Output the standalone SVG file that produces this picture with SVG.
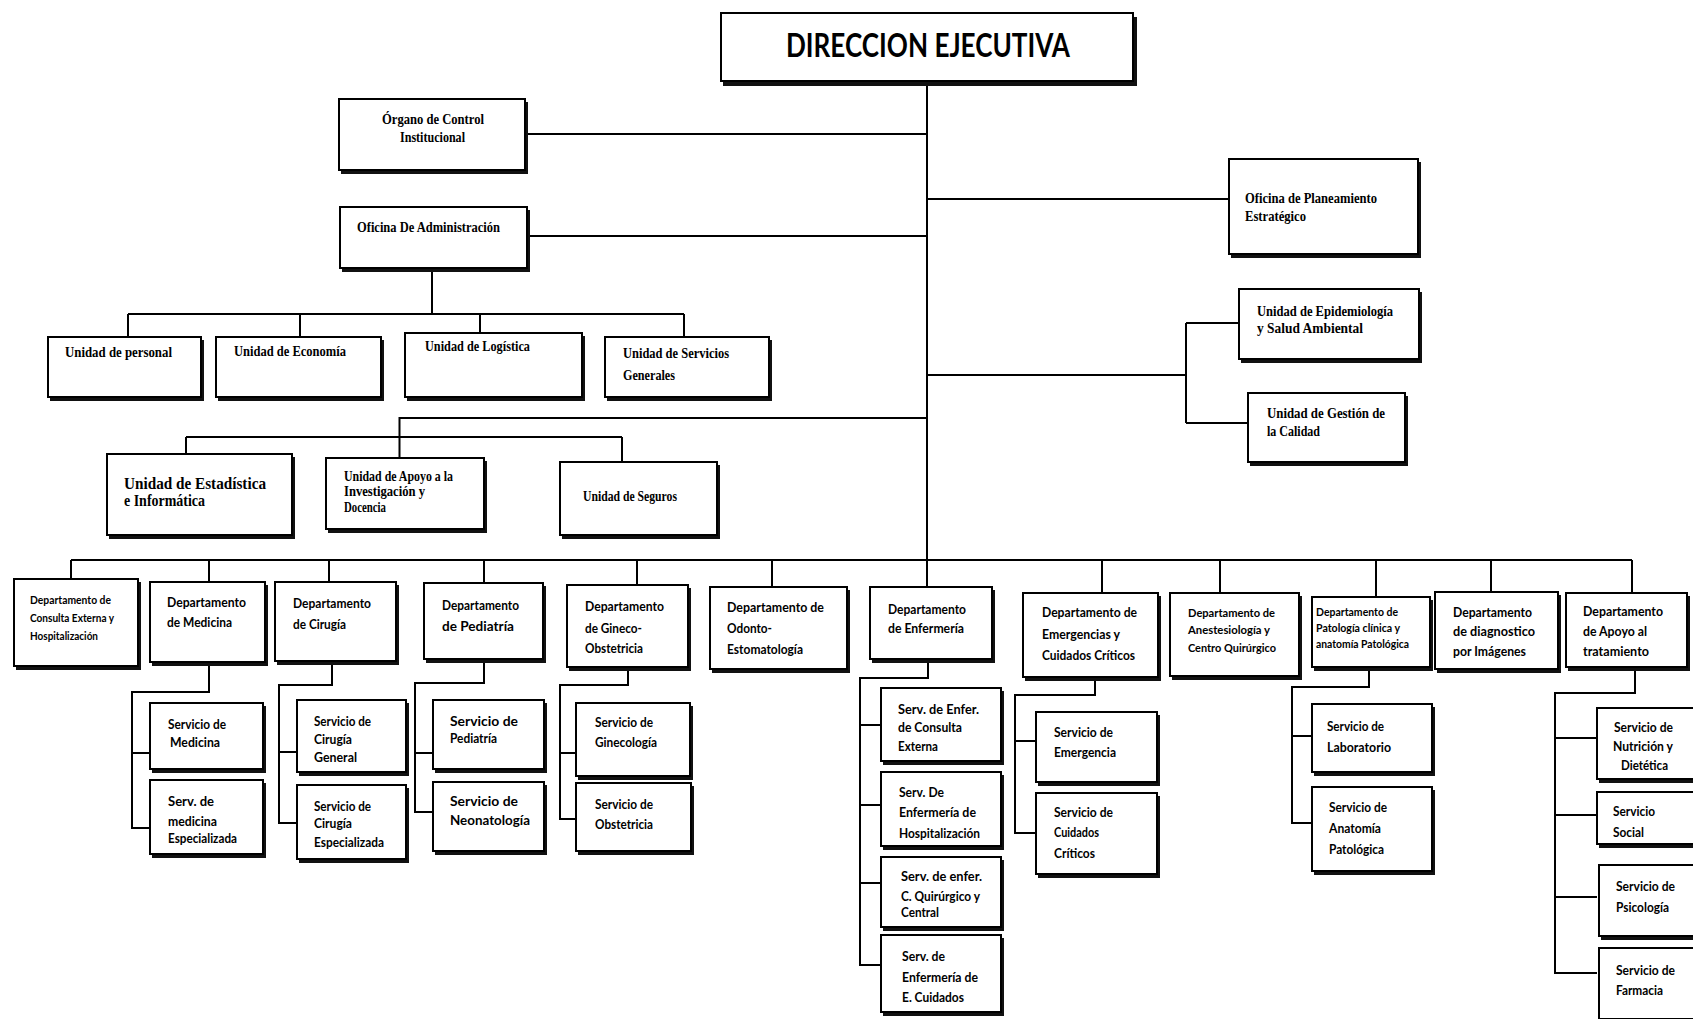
<svg xmlns="http://www.w3.org/2000/svg" width="1693" height="1019" viewBox="0 0 1693 1019">
<style>
.sh{fill:#111}
.bx{fill:#fff;stroke:#000;stroke-width:2}
.ln{fill:none;stroke:#000;stroke-width:2}
.t{font-family:"Liberation Serif",serif;font-size:14px;font-weight:bold;fill:#000}
.tb{font-family:"Liberation Serif",serif;font-size:16px;font-weight:bold;fill:#000}
.s{font-family:Lato,"Liberation Sans",sans-serif;font-size:12.5px;font-weight:bold;fill:#000}
.ss{font-family:Lato,"Liberation Sans",sans-serif;font-size:10.5px;font-weight:bold;fill:#000}
.ti{font-family:Lato,"Liberation Sans",sans-serif;font-size:33px;font-weight:bold;fill:#000}
</style>
<rect width="1693" height="1019" fill="#fff"/>
<g id="connectors">
<path class="ln" d="M927 82V587"/>
<path class="ln" d="M526 134H927"/>
<path class="ln" d="M528 236H927"/>
<path class="ln" d="M927 199H1229"/>
<path class="ln" d="M927 375H1186M1186 323V423M1186 323H1239M1186 423H1248"/>
<path class="ln" d="M927 418H399.5V458M186 437H622M186 437V454M622 437V462"/>
<path class="ln" d="M432 269V314M128 314H684M128 314V337M300 314V337M480 314V333M684 314V337"/>
<path class="ln" d="M71 560H1632M71 560V579M209 560V582M329 560V582M484 560V583M637 560V585M772 560V587M1102 560V593M1220 560V593M1376 560V597M1491 560V592M1632 560V593"/>
<path class="ln" d="M209 663V692H132V828H150M132 753H150"/>
<path class="ln" d="M332 662V685H279V823H297M279 752H297"/>
<path class="ln" d="M484 660V683H415V812H433M415 753H433"/>
<path class="ln" d="M628 668V685H560V819H576M560 753H576"/>
<path class="ln" d="M928 660V678H860V965H881M860 725H881M860 805H881M860 883H881"/>
<path class="ln" d="M1095 678V695H1015V833H1036M1015 741H1036"/>
<path class="ln" d="M1369 668V687H1292V823H1312M1292 736H1312"/>
<path class="ln" d="M1635 668V693H1555V973H1597M1555 738H1597M1555 815H1597M1555 897H1597"/>
</g>
<g id="direccion_ejecutiva"><rect class="sh" x="723" y="17" width="414" height="69"/><rect class="bx" x="721" y="13" width="412" height="68"/><text class="ti" x="786" y="57" textLength="284" lengthAdjust="spacingAndGlyphs">DIRECCION EJECUTIVA</text></g>
<g id="organo_control"><rect class="sh" x="341" y="102" width="187" height="72"/><rect class="bx" x="339" y="99" width="186" height="71"/><text class="t" x="382" y="124" textLength="102" lengthAdjust="spacingAndGlyphs">Órgano de Control</text><text class="t" x="400" y="142" textLength="65" lengthAdjust="spacingAndGlyphs">Institucional</text></g>
<g id="oficina_administracion"><rect class="sh" x="342" y="210" width="188" height="62"/><rect class="bx" x="340" y="207" width="187" height="61"/><text class="t" x="357" y="232" textLength="143" lengthAdjust="spacingAndGlyphs">Oficina De Administración</text></g>
<g id="oficina_planeamiento"><rect class="sh" x="1231" y="162" width="190" height="96"/><rect class="bx" x="1229" y="159" width="189" height="95"/><text class="t" x="1245" y="203" textLength="132" lengthAdjust="spacingAndGlyphs">Oficina de Planeamiento</text><text class="t" x="1245" y="221" textLength="61" lengthAdjust="spacingAndGlyphs">Estratégico</text></g>
<g id="unidad_epidemiologia"><rect class="sh" x="1241" y="292" width="181" height="71"/><rect class="bx" x="1239" y="289" width="180" height="70"/><text class="t" x="1257" y="316" textLength="136" lengthAdjust="spacingAndGlyphs">Unidad de Epidemiología</text><text class="t" x="1257" y="333" textLength="106" lengthAdjust="spacingAndGlyphs">y  Salud Ambiental</text></g>
<g id="unidad_calidad"><rect class="sh" x="1250" y="396" width="158" height="70"/><rect class="bx" x="1248" y="393" width="157" height="69"/><text class="t" x="1267" y="418" textLength="118" lengthAdjust="spacingAndGlyphs">Unidad de Gestión  de</text><text class="t" x="1267" y="436" textLength="53" lengthAdjust="spacingAndGlyphs">la Calidad</text></g>
<g id="unidad_personal"><rect class="sh" x="50" y="340" width="154" height="61"/><rect class="bx" x="48" y="337" width="153" height="60"/><text class="t" x="65" y="357" textLength="107" lengthAdjust="spacingAndGlyphs">Unidad de  personal</text></g>
<g id="unidad_economia"><rect class="sh" x="218" y="340" width="166" height="61"/><rect class="bx" x="216" y="337" width="165" height="60"/><text class="t" x="234" y="356" textLength="112" lengthAdjust="spacingAndGlyphs">Unidad de Economía</text></g>
<g id="unidad_logistica"><rect class="sh" x="407" y="336" width="178" height="65"/><rect class="bx" x="405" y="333" width="177" height="64"/><text class="t" x="425" y="351" textLength="105" lengthAdjust="spacingAndGlyphs">Unidad de Logística</text></g>
<g id="unidad_servicios"><rect class="sh" x="607" y="340" width="165" height="61"/><rect class="bx" x="605" y="337" width="164" height="60"/><text class="t" x="623" y="358" textLength="106" lengthAdjust="spacingAndGlyphs">Unidad de Servicios</text><text class="t" x="623" y="380" textLength="52" lengthAdjust="spacingAndGlyphs">Generales</text></g>
<g id="unidad_estadistica"><rect class="sh" x="109" y="457" width="186" height="82"/><rect class="bx" x="107" y="454" width="185" height="81"/><text class="tb" x="124" y="489" textLength="142" lengthAdjust="spacingAndGlyphs">Unidad  de  Estadística</text><text class="tb" x="124" y="506" textLength="81" lengthAdjust="spacingAndGlyphs">e Informática</text></g>
<g id="unidad_apoyo"><rect class="sh" x="328" y="461" width="159" height="72"/><rect class="bx" x="326" y="458" width="158" height="71"/><text class="t" x="344" y="481" textLength="109" lengthAdjust="spacingAndGlyphs">Unidad de Apoyo a la</text><text class="t" x="344" y="496" textLength="81" lengthAdjust="spacingAndGlyphs">Investigación y</text><text class="t" x="344" y="512" textLength="42" lengthAdjust="spacingAndGlyphs">Docencia</text></g>
<g id="unidad_seguros"><rect class="sh" x="562" y="465" width="158" height="74"/><rect class="bx" x="560" y="462" width="157" height="73"/><text class="t" x="583" y="501" textLength="94" lengthAdjust="spacingAndGlyphs">Unidad de Seguros</text></g>
<g id="dep_consulta"><rect class="sh" x="16" y="582" width="125" height="88"/><rect class="bx" x="14" y="579" width="124" height="87"/><text class="ss" x="30" y="604" textLength="81" lengthAdjust="spacingAndGlyphs">Departamento de</text><text class="ss" x="30" y="622" textLength="84" lengthAdjust="spacingAndGlyphs">Consulta Externa y</text><text class="ss" x="30" y="640" textLength="68" lengthAdjust="spacingAndGlyphs">Hospitalización</text></g>
<g id="dep_medicina"><rect class="sh" x="152" y="585" width="116" height="81"/><rect class="bx" x="150" y="582" width="115" height="80"/><text class="s" x="167" y="607" textLength="79" lengthAdjust="spacingAndGlyphs">Departamento</text><text class="s" x="167" y="627" textLength="65" lengthAdjust="spacingAndGlyphs">de Medicina</text></g>
<g id="dep_cirugia"><rect class="sh" x="277" y="585" width="122" height="80"/><rect class="bx" x="275" y="582" width="121" height="79"/><text class="s" x="293" y="608" textLength="78" lengthAdjust="spacingAndGlyphs">Departamento</text><text class="s" x="293" y="629" textLength="53" lengthAdjust="spacingAndGlyphs">de Cirugía</text></g>
<g id="dep_pediatria"><rect class="sh" x="426" y="586" width="120" height="77"/><rect class="bx" x="424" y="583" width="119" height="76"/><text class="s" x="442" y="610" textLength="77" lengthAdjust="spacingAndGlyphs">Departamento</text><text class="s" x="442" y="631" textLength="72" lengthAdjust="spacingAndGlyphs">de Pediatría</text></g>
<g id="dep_gineco"><rect class="sh" x="569" y="588" width="122" height="83"/><rect class="bx" x="567" y="585" width="121" height="82"/><text class="s" x="585" y="611" textLength="79" lengthAdjust="spacingAndGlyphs">Departamento</text><text class="s" x="585" y="633" textLength="57" lengthAdjust="spacingAndGlyphs">de Gineco-</text><text class="s" x="585" y="653" textLength="58" lengthAdjust="spacingAndGlyphs">Obstetricia</text></g>
<g id="dep_odonto"><rect class="sh" x="712" y="590" width="138" height="83"/><rect class="bx" x="710" y="587" width="137" height="82"/><text class="s" x="727" y="612" textLength="97" lengthAdjust="spacingAndGlyphs">Departamento de</text><text class="s" x="727" y="633" textLength="45" lengthAdjust="spacingAndGlyphs">Odonto-</text><text class="s" x="727" y="654" textLength="76" lengthAdjust="spacingAndGlyphs">Estomatología</text></g>
<g id="dep_enfermeria"><rect class="sh" x="872" y="590" width="123" height="73"/><rect class="bx" x="870" y="587" width="122" height="72"/><text class="s" x="888" y="614" textLength="78" lengthAdjust="spacingAndGlyphs">Departamento</text><text class="s" x="888" y="633" textLength="76" lengthAdjust="spacingAndGlyphs">de Enfermería</text></g>
<g id="dep_emergencias"><rect class="sh" x="1025" y="596" width="136" height="85"/><rect class="bx" x="1023" y="593" width="135" height="84"/><text class="s" x="1042" y="617" textLength="95" lengthAdjust="spacingAndGlyphs">Departamento de</text><text class="s" x="1042" y="639" textLength="78" lengthAdjust="spacingAndGlyphs">Emergencias y</text><text class="s" x="1042" y="660" textLength="93" lengthAdjust="spacingAndGlyphs">Cuidados Críticos</text></g>
<g id="dep_anestesiologia"><rect class="sh" x="1172" y="596" width="130" height="84"/><rect class="bx" x="1170" y="593" width="129" height="83"/><text class="ss" x="1188" y="617" textLength="87" lengthAdjust="spacingAndGlyphs">Departamento de</text><text class="ss" x="1188" y="634" textLength="82" lengthAdjust="spacingAndGlyphs">Anestesiología y</text><text class="ss" x="1188" y="652" textLength="88" lengthAdjust="spacingAndGlyphs">Centro Quirúrgico</text></g>
<g id="dep_patologia"><rect class="sh" x="1314" y="600" width="119" height="71"/><rect class="bx" x="1312" y="597" width="118" height="70"/><text class="ss" x="1316" y="616" textLength="82" lengthAdjust="spacingAndGlyphs">Departamento de</text><text class="ss" x="1316" y="632" textLength="84" lengthAdjust="spacingAndGlyphs">Patología clínica y</text><text class="ss" x="1316" y="648" textLength="93" lengthAdjust="spacingAndGlyphs">anatomía Patológica</text></g>
<g id="dep_diagnostico"><rect class="sh" x="1437" y="595" width="124" height="78"/><rect class="bx" x="1435" y="592" width="123" height="77"/><text class="s" x="1453" y="617" textLength="79" lengthAdjust="spacingAndGlyphs">Departamento</text><text class="s" x="1453" y="636" textLength="82" lengthAdjust="spacingAndGlyphs">de  diagnostico</text><text class="s" x="1453" y="656" textLength="73" lengthAdjust="spacingAndGlyphs">por Imágenes</text></g>
<g id="dep_apoyo_tratamiento"><rect class="sh" x="1568" y="596" width="122" height="75"/><rect class="bx" x="1566" y="593" width="121" height="74"/><text class="s" x="1583" y="616" textLength="80" lengthAdjust="spacingAndGlyphs">Departamento</text><text class="s" x="1583" y="636" textLength="64" lengthAdjust="spacingAndGlyphs">de Apoyo al</text><text class="s" x="1583" y="656" textLength="66" lengthAdjust="spacingAndGlyphs">tratamiento</text></g>
<g id="serv_medicina"><rect class="sh" x="152" y="706" width="114" height="67"/><rect class="bx" x="150" y="703" width="113" height="66"/><text class="s" x="168" y="729" textLength="58" lengthAdjust="spacingAndGlyphs">Servicio de</text><text class="s" x="170" y="747" textLength="50" lengthAdjust="spacingAndGlyphs">Medicina</text></g>
<g id="serv_medicina_esp"><rect class="sh" x="152" y="783" width="114" height="75"/><rect class="bx" x="150" y="780" width="113" height="74"/><text class="s" x="168" y="806" textLength="46" lengthAdjust="spacingAndGlyphs">Serv.  de</text><text class="s" x="168" y="826" textLength="49" lengthAdjust="spacingAndGlyphs">medicina</text><text class="s" x="168" y="843" textLength="69" lengthAdjust="spacingAndGlyphs">Especializada</text></g>
<g id="serv_cirugia_gen"><rect class="sh" x="299" y="703" width="110" height="73"/><rect class="bx" x="297" y="700" width="109" height="72"/><text class="s" x="314" y="726" textLength="57" lengthAdjust="spacingAndGlyphs">Servicio de</text><text class="s" x="314" y="744" textLength="38" lengthAdjust="spacingAndGlyphs">Cirugía</text><text class="s" x="314" y="762" textLength="43" lengthAdjust="spacingAndGlyphs">General</text></g>
<g id="serv_cirugia_esp"><rect class="sh" x="299" y="788" width="110" height="75"/><rect class="bx" x="297" y="785" width="109" height="74"/><text class="s" x="314" y="811" textLength="57" lengthAdjust="spacingAndGlyphs">Servicio de</text><text class="s" x="314" y="828" textLength="38" lengthAdjust="spacingAndGlyphs">Cirugía</text><text class="s" x="314" y="847" textLength="70" lengthAdjust="spacingAndGlyphs">Especializada</text></g>
<g id="serv_pediatria"><rect class="sh" x="435" y="703" width="112" height="70"/><rect class="bx" x="433" y="700" width="111" height="69"/><text class="s" x="450" y="726" textLength="68" lengthAdjust="spacingAndGlyphs">Servicio de</text><text class="s" x="450" y="743" textLength="47" lengthAdjust="spacingAndGlyphs">Pediatría</text></g>
<g id="serv_neonatologia"><rect class="sh" x="435" y="785" width="112" height="70"/><rect class="bx" x="433" y="782" width="111" height="69"/><text class="s" x="450" y="806" textLength="68" lengthAdjust="spacingAndGlyphs">Servicio de</text><text class="s" x="450" y="825" textLength="80" lengthAdjust="spacingAndGlyphs">Neonatología</text></g>
<g id="serv_ginecologia"><rect class="sh" x="578" y="706" width="115" height="74"/><rect class="bx" x="576" y="703" width="114" height="73"/><text class="s" x="595" y="727" textLength="58" lengthAdjust="spacingAndGlyphs">Servicio de</text><text class="s" x="595" y="747" textLength="62" lengthAdjust="spacingAndGlyphs">Ginecología</text></g>
<g id="serv_obstetricia"><rect class="sh" x="578" y="786" width="116" height="69"/><rect class="bx" x="576" y="783" width="115" height="68"/><text class="s" x="595" y="809" textLength="58" lengthAdjust="spacingAndGlyphs">Servicio de</text><text class="s" x="595" y="829" textLength="58" lengthAdjust="spacingAndGlyphs">Obstetricia</text></g>
<g id="serv_enf_consulta"><rect class="sh" x="883" y="691" width="121" height="74"/><rect class="bx" x="881" y="688" width="120" height="73"/><text class="s" x="898" y="714" textLength="81" lengthAdjust="spacingAndGlyphs">Serv. de  Enfer.</text><text class="s" x="898" y="732" textLength="64" lengthAdjust="spacingAndGlyphs">de Consulta</text><text class="s" x="898" y="751" textLength="40" lengthAdjust="spacingAndGlyphs">Externa</text></g>
<g id="serv_enf_hospitalizacion"><rect class="sh" x="883" y="775" width="121" height="75"/><rect class="bx" x="881" y="772" width="120" height="74"/><text class="s" x="899" y="797" textLength="45" lengthAdjust="spacingAndGlyphs">Serv. De</text><text class="s" x="899" y="817" textLength="77" lengthAdjust="spacingAndGlyphs">Enfermería de</text><text class="s" x="899" y="838" textLength="81" lengthAdjust="spacingAndGlyphs">Hospitalización</text></g>
<g id="serv_enf_quirurgico"><rect class="sh" x="883" y="860" width="121" height="71"/><rect class="bx" x="881" y="857" width="120" height="70"/><text class="s" x="901" y="881" textLength="81" lengthAdjust="spacingAndGlyphs">Serv. de  enfer.</text><text class="s" x="901" y="901" textLength="79" lengthAdjust="spacingAndGlyphs">C. Quirúrgico y</text><text class="s" x="901" y="917" textLength="38" lengthAdjust="spacingAndGlyphs">Central</text></g>
<g id="serv_enf_cuidados"><rect class="sh" x="883" y="938" width="121" height="78"/><rect class="bx" x="881" y="935" width="120" height="77"/><text class="s" x="902" y="961" textLength="43" lengthAdjust="spacingAndGlyphs">Serv. de</text><text class="s" x="902" y="982" textLength="76" lengthAdjust="spacingAndGlyphs">Enfermería de</text><text class="s" x="902" y="1002" textLength="62" lengthAdjust="spacingAndGlyphs">E. Cuidados</text></g>
<g id="serv_emergencia"><rect class="sh" x="1038" y="715" width="122" height="71"/><rect class="bx" x="1036" y="712" width="121" height="70"/><text class="s" x="1054" y="737" textLength="59" lengthAdjust="spacingAndGlyphs">Servicio de</text><text class="s" x="1054" y="757" textLength="62" lengthAdjust="spacingAndGlyphs">Emergencia</text></g>
<g id="serv_cuidados_criticos"><rect class="sh" x="1038" y="796" width="122" height="82"/><rect class="bx" x="1036" y="793" width="121" height="81"/><text class="s" x="1054" y="817" textLength="59" lengthAdjust="spacingAndGlyphs">Servicio de</text><text class="s" x="1054" y="837" textLength="45" lengthAdjust="spacingAndGlyphs">Cuidados</text><text class="s" x="1054" y="858" textLength="41" lengthAdjust="spacingAndGlyphs">Críticos</text></g>
<g id="serv_laboratorio"><rect class="sh" x="1314" y="707" width="121" height="69"/><rect class="bx" x="1312" y="704" width="120" height="68"/><text class="s" x="1327" y="731" textLength="57" lengthAdjust="spacingAndGlyphs">Servicio de</text><text class="s" x="1327" y="752" textLength="64" lengthAdjust="spacingAndGlyphs">Laboratorio</text></g>
<g id="serv_anatomia"><rect class="sh" x="1314" y="790" width="121" height="85"/><rect class="bx" x="1312" y="787" width="120" height="84"/><text class="s" x="1329" y="812" textLength="58" lengthAdjust="spacingAndGlyphs">Servicio de</text><text class="s" x="1329" y="833" textLength="52" lengthAdjust="spacingAndGlyphs">Anatomía</text><text class="s" x="1329" y="854" textLength="55" lengthAdjust="spacingAndGlyphs">Patológica</text></g>
<g id="serv_nutricion"><rect class="sh" x="1599" y="711" width="110" height="72"/><rect class="bx" x="1597" y="708" width="109" height="71"/><text class="s" x="1614" y="732" textLength="59" lengthAdjust="spacingAndGlyphs">Servicio de</text><text class="s" x="1613" y="751" textLength="60" lengthAdjust="spacingAndGlyphs">Nutrición y</text><text class="s" x="1621" y="770" textLength="47" lengthAdjust="spacingAndGlyphs">Dietética</text></g>
<g id="serv_social"><rect class="sh" x="1599" y="795" width="110" height="53"/><rect class="bx" x="1597" y="792" width="109" height="52"/><text class="s" x="1613" y="816" textLength="42" lengthAdjust="spacingAndGlyphs">Servicio</text><text class="s" x="1613" y="837" textLength="31" lengthAdjust="spacingAndGlyphs">Social</text></g>
<g id="serv_psicologia"><rect class="sh" x="1601" y="868" width="110" height="72"/><rect class="bx" x="1599" y="865" width="109" height="71"/><text class="s" x="1616" y="891" textLength="59" lengthAdjust="spacingAndGlyphs">Servicio de</text><text class="s" x="1616" y="912" textLength="53" lengthAdjust="spacingAndGlyphs">Psicología</text></g>
<g id="serv_farmacia"><rect class="sh" x="1601" y="951" width="110" height="72"/><rect class="bx" x="1599" y="948" width="109" height="71"/><text class="s" x="1616" y="975" textLength="59" lengthAdjust="spacingAndGlyphs">Servicio de</text><text class="s" x="1616" y="995" textLength="47" lengthAdjust="spacingAndGlyphs">Farmacia</text></g>
</svg>
